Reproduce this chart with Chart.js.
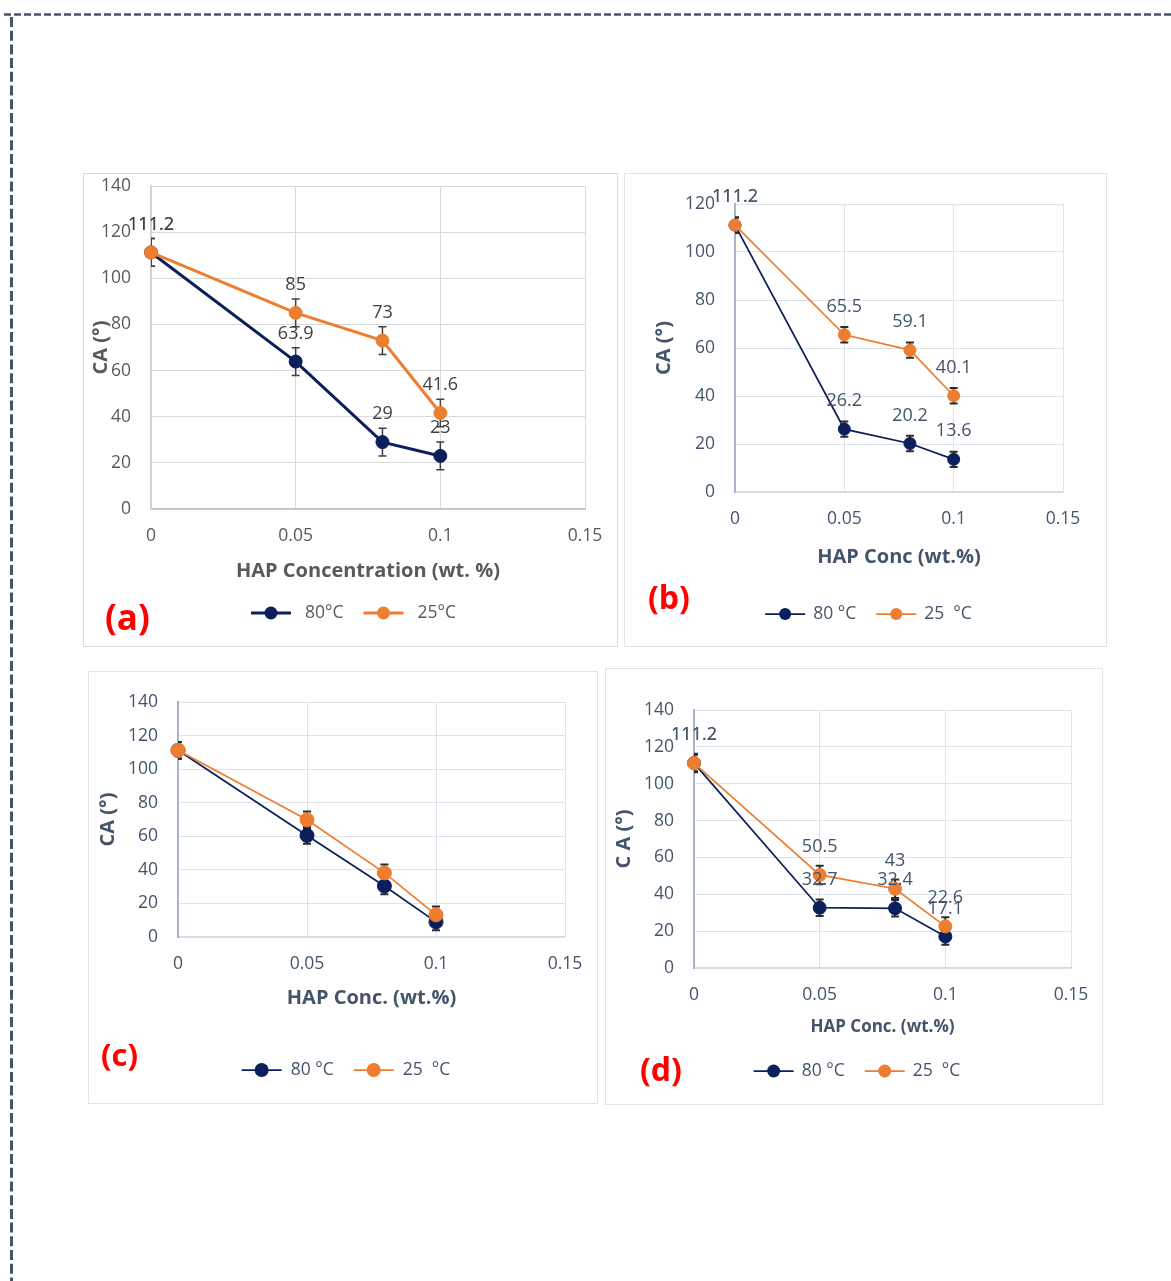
<!DOCTYPE html>
<html>
<head>
<meta charset="utf-8">
<title>Contact angle vs HAP concentration</title>
<script src="https://cdn.jsdelivr.net/npm/chart.js@4.4.1/dist/chart.umd.min.js"></script>
<style>
  html, body { margin: 0; padding: 0; background: #ffffff; }
  body { width: 1171px; height: 1281px; position: relative; overflow: hidden; font-family: "Open Sans", sans-serif; }
  .frame { position: absolute; left: 0; top: 0; }
  .panel { position: absolute; box-sizing: border-box; border: 1px solid #d9d9d9; background: #ffffff; }
  .panel canvas { position: absolute; left: -1px; top: -1px; }
  .tag { position: absolute; color: #ff0000; font-weight: 700; line-height: 1; font-family: "Open Sans", sans-serif; white-space: nowrap; }
</style>
</head>
<body>
<svg class="frame" width="1171" height="1281">
  <line x1="4" y1="14.5" x2="1171" y2="14.5" stroke="#44546a" stroke-width="2.5" stroke-dasharray="7 3"/>
  <line x1="11.5" y1="17" x2="11.5" y2="1281" stroke="#44546a" stroke-width="3" stroke-dasharray="10 3.7"/>
</svg>

<script>
// HAP concentration (wt.%) of the measured samples
const concentrations = [0, 0.05, 0.08, 0.1];
const xTickValues = [0, 0.05, 0.1, 0.15];
const xTickLabels = ['0', '0.05', '0.1', '0.15'];
const yTicks140 = [0, 20, 40, 60, 80, 100, 120, 140];
const yTicks120 = [0, 20, 40, 60, 80, 100, 120];

// (a) contact angle (°)
const caA80 = [111.2, 63.9, 29, 23];
const caA25 = [111.2, 85, 73, 41.6];
const errA80 = [6, 6, 6, 6];
const errA25 = [6, 6, 6, 6];

// (b)
const caB80 = [111.2, 26.2, 20.2, 13.6];
const caB25 = [111.2, 65.5, 59.1, 40.1];
const errB80 = [3.2, 3.2, 3.2, 3.2];
const errB25 = [3.2, 3.2, 3.2, 3.2];

// (c)
const caC80 = [111.2, 60.5, 30.4, 9];
const caC25 = [111.2, 69.8, 38.2, 13.2];
const errC80 = [5, 5, 5, 5];
const errC25 = [5, 5, 5, 5];

// (d)
const caD80 = [111.2, 32.7, 32.4, 17.1];
const caD25 = [111.2, 50.5, 43, 22.6];
const errD80 = [4.5, 4.5, 4.5, 4.5];
const errD25 = [5, 5, 5, 5];

const NAVY = '#0b1f5c';
const ORANGE = '#ed7d31';
const FONT = '"Open Sans", sans-serif';

// vertical error bars with caps, drawn beneath the markers
const errorBarPlugin = {
  id: 'errorBars',
  beforeDatasetsDraw(chart, args, o) {
    const { ctx, chartArea: a, scales } = chart;
    ctx.save();
    ctx.beginPath();
    ctx.rect(a.left, a.top, a.right - a.left, a.bottom - a.top);
    ctx.clip();
    ctx.strokeStyle = o.color;
    ctx.lineWidth = o.width;
    chart.data.datasets.forEach(ds => {
      ds.data.forEach((pt, i) => {
        const e = ds.err[i];
        const x = scales.x.getPixelForValue(pt.x);
        const yTop = scales.y.getPixelForValue(pt.y + e);
        const yBot = scales.y.getPixelForValue(pt.y - e);
        ctx.beginPath();
        ctx.moveTo(x, yTop); ctx.lineTo(x, yBot);
        ctx.moveTo(x - o.cap, yTop); ctx.lineTo(x + o.cap, yTop);
        ctx.moveTo(x - o.cap, yBot); ctx.lineTo(x + o.cap, yBot);
        ctx.stroke();
      });
    });
    ctx.restore();
  }
};

// value labels above each point
const valueLabelPlugin = {
  id: 'valueLabels',
  afterDatasetsDraw(chart, args, o) {
    if (!o.show) return;
    const { ctx, scales } = chart;
    ctx.save();
    ctx.font = o.size + 'px ' + FONT;
    ctx.fillStyle = o.color;
    ctx.textAlign = 'center';
    ctx.textBaseline = 'middle';
    chart.data.datasets.forEach(ds => {
      ds.data.forEach(pt => {
        const x = scales.x.getPixelForValue(pt.x);
        const y = scales.y.getPixelForValue(pt.y);
        ctx.fillText(String(pt.y), x, y - o.offset);
      });
    });
    ctx.restore();
  }
};

// legend entries drawn as line + marker, centred under the chart
const lineLegendPlugin = {
  id: 'lineLegend',
  afterDraw(chart, args, o) {
    const ctx = chart.ctx;
    ctx.save();
    ctx.font = o.size + 'px ' + FONT;
    const items = chart.data.datasets.map(ds => ({ ds, w: ctx.measureText(ds.label).width }));
    const total = items.reduce((s, it) => s + o.line + o.gap + it.w, 0) + o.itemGap * (items.length - 1);
    let x = chart.width / 2 + o.shift - total / 2;
    items.forEach(it => {
      const ds = it.ds;
      ctx.strokeStyle = ds.borderColor;
      ctx.lineWidth = ds.borderWidth;
      ctx.beginPath();
      ctx.moveTo(x, o.y); ctx.lineTo(x + o.line, o.y);
      ctx.stroke();
      ctx.fillStyle = ds.pointBackgroundColor;
      ctx.beginPath();
      ctx.arc(x + o.line / 2, o.y, ds.pointRadius, 0, Math.PI * 2);
      ctx.fill();
      x += o.line + o.gap;
      ctx.fillStyle = o.color;
      ctx.textAlign = 'left';
      ctx.textBaseline = 'middle';
      ctx.fillText(ds.label, x, o.y);
      x += it.w + o.itemGap;
    });
    ctx.restore();
  }
};

function series(values) {
  return concentrations.map((x, i) => ({ x, y: values[i] }));
}

function buildPanel(p) {
  const box = document.createElement('div');
  box.className = 'panel';
  Object.assign(box.style, { left: p.x + 'px', top: p.y + 'px', width: p.w + 'px', height: p.h + 'px', borderColor: p.frame });
  const canvas = document.createElement('canvas');
  canvas.width = p.w; canvas.height = p.h;
  canvas.style.width = p.w + 'px'; canvas.style.height = p.h + 'px';
  box.appendChild(canvas);
  document.body.appendChild(box);

  const tag = document.createElement('div');
  tag.className = 'tag';
  tag.textContent = p.tag.text;
  Object.assign(tag.style, { left: p.tag.x + 'px', top: p.tag.y + 'px', fontSize: p.tag.size + 'px' });
  document.body.appendChild(tag);

  const tickFont = { family: FONT, size: p.tickSize };
  const mk = (label, values, err, color, order) => ({
    label, data: series(values), err,
    borderColor: color, backgroundColor: color,
    pointBackgroundColor: color, pointBorderColor: color,
    borderWidth: p.lineWidth, pointRadius: p.radius, pointBorderWidth: 1,
    pointHoverRadius: p.radius, tension: 0, order, clip: false
  });

  new Chart(canvas, {
    type: 'line',
    data: {
      datasets: [
        mk(p.legend[0], p.s80, p.e80, NAVY, 2),
        mk(p.legend[1], p.s25, p.e25, ORANGE, 1)
      ]
    },
    options: {
      responsive: false,
      animation: false,
      devicePixelRatio: 1,
      events: [],
      layout: { autoPadding: false, padding: { left: 0, top: p.plot.top, right: p.w - p.plot.right, bottom: p.h - p.plot.bottom - p.xH } },
      plugins: {
        legend: { display: false },
        tooltip: { enabled: false },
        errorBars: { color: p.errColor, width: p.errWidth, cap: 4 },
        valueLabels: { show: p.labels, color: p.labelColor, size: 18, offset: 28 },
        lineLegend: { y: p.legendY, size: 17.5, color: p.textColor, line: 40, gap: p.legendGap, itemGap: 20, shift: 3 }
      },
      scales: {
        x: {
          type: 'linear', min: 0, max: 0.15,
          afterBuildTicks: s => { s.ticks = xTickValues.map(v => ({ value: v })); },
          afterFit: s => { s.height = p.xH; s.paddingLeft = 0; s.paddingRight = 0; },
          ticks: { padding: 17, font: tickFont, color: p.textColor, maxRotation: 0, autoSkip: false,
                   callback: (v, i) => xTickLabels[i] },
          grid: { color: p.grid, lineWidth: 1, drawTicks: false },
          border: { display: true, color: p.xBorder, width: 1.5 },
          title: { display: true, text: p.xTitle, color: p.textColor,
                   font: { family: FONT, size: p.xTitleSize, weight: 'bold' }, padding: { top: 0, bottom: 0 } }
        },
        y: {
          type: 'linear', min: 0, max: p.yMax,
          afterBuildTicks: s => { s.ticks = p.yTicks.map(v => ({ value: v })); },
          afterFit: s => { s.width = p.plot.left; s.paddingTop = 0; s.paddingBottom = 0; },
          ticks: { padding: 20, font: tickFont, color: p.textColor, callback: v => String(v) },
          grid: { color: p.grid, lineWidth: 1, drawTicks: false },
          border: { display: true, color: p.yBorder, width: p.yBorderWidth },
          title: { display: true, text: p.yTitle, color: p.textColor,
                   font: { family: FONT, size: 20, weight: 'bold' }, padding: { top: p.yTitlePad, bottom: 0 } }
        }
      }
    },
    plugins: [errorBarPlugin, valueLabelPlugin, lineLegendPlugin]
  });
}

buildPanel({
  x: 83, y: 173, w: 535, h: 474, frame: '#d9d9d9',
  plot: { left: 68, top: 13, right: 502, bottom: 336 }, xH: 74, yMax: 140, yTicks: yTicks140,
  s80: caA80, s25: caA25, e80: errA80, e25: errA25,
  lineWidth: 3, radius: 6.5, labels: true, labelColor: '#404040',
  textColor: '#595959', tickSize: 17.5, grid: '#d9d9d9', xBorder: '#bfbfbf', yBorder: '#d0d0d0', yBorderWidth: 1.5,
  errColor: '#404040', errWidth: 1.5,
  xTitle: 'HAP Concentration (wt. %)', xTitleSize: 20, yTitle: 'CA (°)', yTitlePad: 6.5,
  legend: ['80°C', '25°C'], legendY: 440, legendGap: 14,
  tag: { text: '(a)', x: 105, y: 599, size: 35 }
});

buildPanel({
  x: 624, y: 173, w: 483, h: 474, frame: '#dfe4ea',
  plot: { left: 111, top: 31, right: 439, bottom: 319 }, xH: 77, yMax: 120, yTicks: yTicks120,
  s80: caB80, s25: caB25, e80: errB80, e25: errB25,
  lineWidth: 1.75, radius: 6, labels: true, labelColor: '#44546a',
  textColor: '#44546a', tickSize: 17.5, grid: '#dde3ea', xBorder: '#d5dbe4', yBorder: '#a8b4c6', yBorderWidth: 2,
  errColor: '#2b2b2b', errWidth: 2,
  xTitle: 'HAP Conc (wt.%)', xTitleSize: 20, yTitle: 'CA (°)', yTitlePad: 28,
  legend: ['80 °C', '25  °C'], legendY: 441, legendGap: 8,
  tag: { text: '(b)', x: 648, y: 581, size: 32 }
});

buildPanel({
  x: 88, y: 671, w: 510, h: 433, frame: '#dfe4ea',
  plot: { left: 90, top: 31, right: 477, bottom: 266 }, xH: 73, yMax: 140, yTicks: yTicks140,
  s80: caC80, s25: caC25, e80: errC80, e25: errC25,
  lineWidth: 1.75, radius: 7, labels: false, labelColor: '#44546a',
  textColor: '#44546a', tickSize: 17.5, grid: '#dde3ea', xBorder: '#d5dbe4', yBorder: '#a8b4c6', yBorderWidth: 2,
  errColor: '#2b2b2b', errWidth: 2,
  xTitle: 'HAP Conc. (wt.%)', xTitleSize: 20, yTitle: 'CA (°)', yTitlePad: 8,
  legend: ['80 °C', '25  °C'], legendY: 399, legendGap: 9,
  tag: { text: '(c)', x: 101, y: 1039, size: 31 }
});

buildPanel({
  x: 605, y: 668, w: 498, h: 437, frame: '#dfe4ea',
  plot: { left: 89, top: 42, right: 466, bottom: 300 }, xH: 69, yMax: 140, yTicks: yTicks140,
  s80: caD80, s25: caD25, e80: errD80, e25: errD25,
  lineWidth: 1.75, radius: 6.5, labels: true, labelColor: '#44546a',
  textColor: '#44546a', tickSize: 17.5, grid: '#dde3ea', xBorder: '#d5dbe4', yBorder: '#a8b4c6', yBorderWidth: 2,
  errColor: '#2b2b2b', errWidth: 2,
  xTitle: 'HAP Conc. (wt.%)', xTitleSize: 17, yTitle: 'C A (°)', yTitlePad: 7.5,
  legend: ['80 °C', '25  °C'], legendY: 403, legendGap: 8,
  tag: { text: '(d)', x: 640, y: 1053, size: 32 }
});
</script>
</body>
</html>
